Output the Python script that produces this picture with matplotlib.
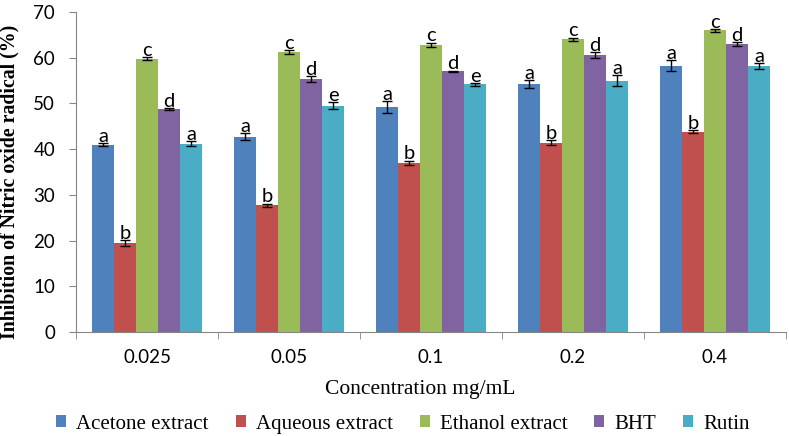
import matplotlib
matplotlib.use("Agg")
import matplotlib.pyplot as plt
import numpy as np

categories = ["0.025", "0.05", "0.1", "0.2", "0.4"]
series_names = ["Acetone extract", "Aqueous extract", "Ethanol extract", "BHT", "Rutin"]
acetone = [41.0, 42.7, 49.2, 54.2, 58.2]
aqueous = [19.5, 27.7, 37.0, 41.4, 43.8]
ethanol = [59.8, 61.2, 62.8, 64.0, 66.0]
bht = [48.8, 55.3, 57.0, 60.6, 63.0]
rutin = [41.2, 49.5, 54.2, 55.0, 58.2]
acetone_err = [0.4, 0.8, 1.3, 0.9, 1.2]
aqueous_err = [0.6, 0.4, 0.5, 0.5, 0.3]
ethanol_err = [0.4, 0.4, 0.5, 0.4, 0.3]
bht_err = [0.2, 0.7, 0.2, 0.6, 0.5]
rutin_err = [0.6, 0.8, 0.3, 1.2, 0.7]
acetone_lbl = ["a", "a", "a", "a", "a"]
aqueous_lbl = ["b", "b", "b", "b", "b"]
ethanol_lbl = ["c", "c", "c", "c", "c"]
bht_lbl = ["d", "d", "d", "d", "d"]
rutin_lbl = ["a", "e", "e", "a", "a"]

colors = ["#4F81BD", "#C0504D", "#9BBB59", "#8064A2", "#4BACC6"]
values = [acetone, aqueous, ethanol, bht, rutin]
errors = [acetone_err, aqueous_err, ethanol_err, bht_err, rutin_err]
labels = [acetone_lbl, aqueous_lbl, ethanol_lbl, bht_lbl, rutin_lbl]

fig = plt.figure(figsize=(7.89, 4.36), dpi=100)
ax = fig.add_axes([76/789, 1-332/436, (786-76)/789, (332-12)/436])

x = np.arange(len(categories))
w = 0.155
for i in range(5):
    pos = x + (i - 2) * w
    ax.bar(pos, values[i], w, color=colors[i], label=series_names[i], zorder=2)
    ax.errorbar(pos, values[i], yerr=errors[i], fmt="none", ecolor="black",
                elinewidth=1.0, capsize=3.5, capthick=1.0, zorder=3)
    for p, v, e, t in zip(pos, values[i], errors[i], labels[i]):
        ax.text(p, v + e - 0.4, t, ha="center", va="bottom", fontsize=14.5,
                family="Lato", color="black", zorder=4)

ax.set_xlim(-0.5, 4.5)
ax.set_ylim(0, 70)
ax.set_yticks(range(0, 71, 10))
ax.set_xticks(x)
ax.set_xticklabels(categories)
ax.set_xticks(np.arange(-0.5, 5, 1), minor=True)
ax.tick_params(axis="x", which="major", length=0, pad=12)
ax.tick_params(axis="x", which="minor", length=5, color="#868686")
ax.tick_params(axis="y", length=5, color="#868686", pad=10)
for lab in ax.get_xticklabels() + ax.get_yticklabels():
    lab.set_family("Lato")
    lab.set_fontsize(13.5)

for s in ["top", "right"]:
    ax.spines[s].set_visible(False)
for s in ["left", "bottom"]:
    ax.spines[s].set_color("#868686")

ax.set_ylabel("Inhibition of Nitric oxide radical (%)", family="Liberation Serif",
              fontsize=14.3, fontweight="bold")
ax.yaxis.set_label_coords(-57/710, 0.47)
ax.set_xlabel("Concentration mg/mL", family="Liberation Serif", fontsize=15.5)
ax.xaxis.set_label_coords((420-76)/710, -(380-332)/320)

leg = fig.legend(loc="center", bbox_to_anchor=(403/789, 1-424/436), ncol=5, frameon=False,
                 prop={"family": "Liberation Serif", "size": 15},
                 handlelength=0.48, handleheight=0.48, handletextpad=0.48, columnspacing=1.3)

fig.savefig("out.png", dpi=100)
